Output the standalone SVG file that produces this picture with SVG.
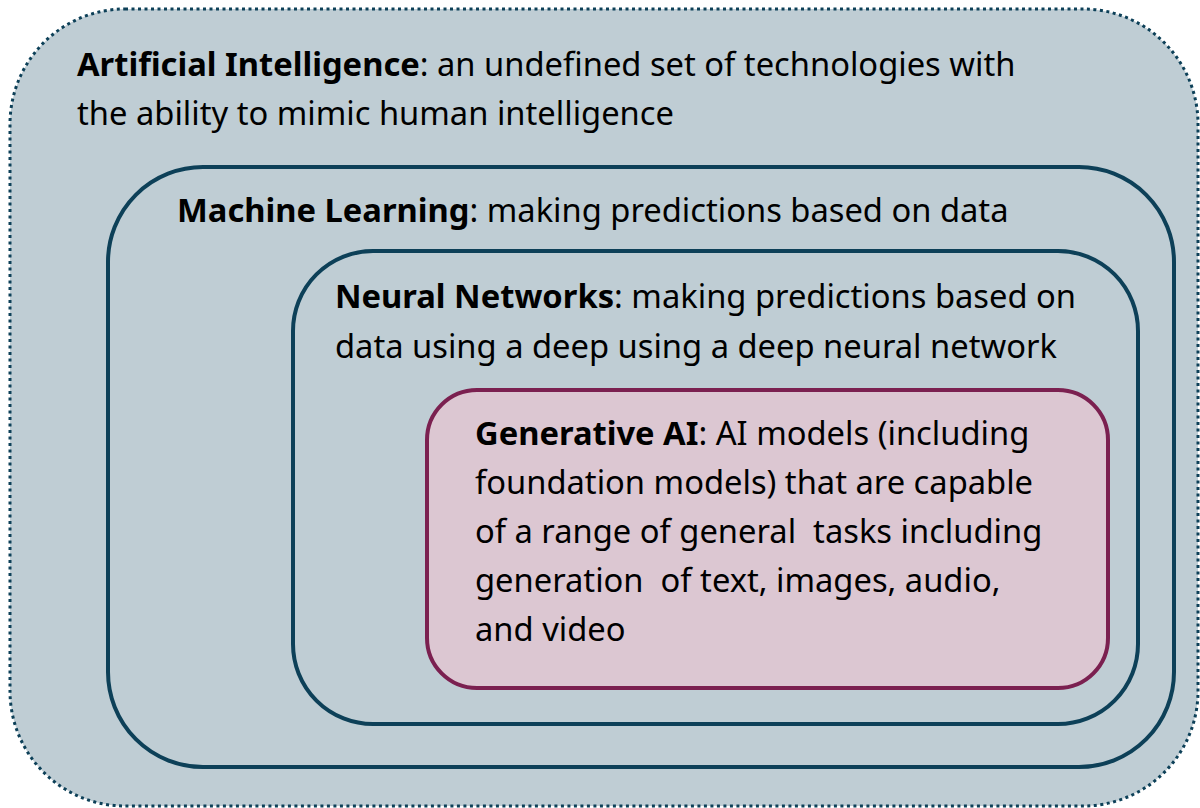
<svg xmlns="http://www.w3.org/2000/svg" width="1200" height="808" viewBox="0 0 1200 808">
  <style>
    .lbl { font-family: "Noto Sans", "Open Sans", sans-serif; font-size: 32.7px; fill: #000; white-space: pre; }
    .b { font-weight: bold; }
    .frame { fill: none; stroke: #0d4058; stroke-width: 4; }
  </style>
  <rect x="0" y="0" width="1200" height="808" fill="#ffffff"/>

  <g id="artificial-intelligence">
    <rect x="10" y="9" width="1188" height="797" rx="115" ry="115" fill="#bfcdd4" stroke="#0d4058" stroke-width="3" stroke-dasharray="3 3.5"/>
    <text class="lbl" x="77" y="76"><tspan class="b">Artificial Intelligence</tspan>: an undefined set of technologies with</text>
    <text class="lbl" x="77" y="125">the ability to mimic human intelligence</text>
  </g>

  <g id="machine-learning">
    <rect class="frame" x="108" y="167" width="1066" height="600" rx="95" ry="95"/>
    <text class="lbl" x="177" y="222"><tspan class="b">Machine Learning</tspan>: making predictions based on data</text>
  </g>

  <g id="neural-networks">
    <rect class="frame" x="293" y="251" width="845" height="473" rx="80" ry="80"/>
    <text class="lbl" x="335" y="308"><tspan class="b">Neural Networks</tspan>: making predictions based on</text>
    <text class="lbl" x="335" y="358">data using a deep using a deep neural network</text>
  </g>

  <g id="generative-ai">
    <rect x="427" y="390" width="681" height="298" rx="50" ry="50" fill="#dcc7d2" stroke="#7b2050" stroke-width="4"/>
    <text class="lbl" x="475" y="445"><tspan class="b">Generative AI</tspan>: AI models (including</text>
    <text class="lbl" x="475" y="494">foundation models) that are capable</text>
    <text class="lbl" x="475" y="543">of a range of general  tasks including</text>
    <text class="lbl" x="475" y="592">generation  of text, images, audio,</text>
    <text class="lbl" x="475" y="641">and video</text>
  </g>

  <g id="connectors"></g>
</svg>
